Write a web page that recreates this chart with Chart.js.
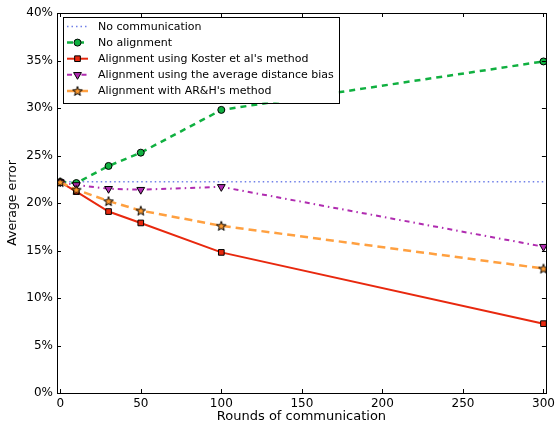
<!DOCTYPE html>
<html>
<head>
<meta charset="utf-8">
<script src="https://cdn.jsdelivr.net/npm/chart.js@4/dist/chart.umd.min.js"></script>
<style>
  html, body { margin: 0; padding: 0; background: #fff; }
  canvas { display: block; }
</style>
</head>
<body>
<canvas id="errorChart" width="559" height="424"></canvas>
<script>
// Rounds of communication (x values)
const rounds = [0, 10, 30, 50, 100, 300];

// Average error (%) per method
const noCommunication = [22.25, 22.25, 22.25, 22.25, 22.25, 22.25];
const noAlignment = [22.2, 22.1, 23.9, 25.3, 29.8, 34.9];
const kosterMethod = [22.2, 21.2, 19.1, 17.9, 14.8, 7.3];
const avgDistanceBias = [22.2, 21.9, 21.5, 21.4, 21.7, 15.4];
const arhMethod = [22.2, 21.4, 20.2, 19.2, 17.6, 13.1];

// Tick labels
const xTicks = [0, 50, 100, 150, 200, 250, 300];
const yTicks = [0, 5, 10, 15, 20, 25, 30, 35, 40];

const FONT = "'DejaVu Sans', Verdana, sans-serif";

// Filled five-point star marker, like matplotlib's '*'
function makeStar(size, fill) {
    const c = document.createElement('canvas');
    c.width = size;
    c.height = size;
    const g = c.getContext('2d');
    const cx = size / 2, cy = size / 2 + 0.5;
    const outer = size / 2 - 1, inner = outer * 0.42;
    g.beginPath();
    for (let i = 0; i < 10; i++) {
        const r = i % 2 === 0 ? outer : inner;
        const a = -Math.PI / 2 + i * Math.PI / 5;
        const px = cx + r * Math.cos(a), py = cy + r * Math.sin(a);
        if (i === 0) g.moveTo(px, py); else g.lineTo(px, py);
    }
    g.closePath();
    g.fillStyle = fill;
    g.fill();
    g.lineWidth = 1;
    g.strokeStyle = '#000';
    g.stroke();
    return c;
}

const starImg = makeStar(12, '#ff9a2e');

function points(values) {
    return rounds.map((r, i) => ({ x: r, y: values[i] }));
}

// Inward ticks on all four sides + the box frame
const frameTicks = {
    id: 'frameTicks',
    afterDraw(chart) {
        const { ctx, chartArea: a, scales } = chart;
        ctx.save();
        ctx.strokeStyle = '#000';
        ctx.lineWidth = 1;
        ctx.setLineDash([]);
        ctx.beginPath();
        xTicks.forEach(v => {
            const x = Math.round(scales.x.getPixelForValue(v)) + 0.5;
            ctx.moveTo(x, a.bottom); ctx.lineTo(x, a.bottom - 4);
            ctx.moveTo(x, a.top); ctx.lineTo(x, a.top + 4);
        });
        yTicks.forEach(v => {
            const y = Math.round(scales.y.getPixelForValue(v)) + 0.5;
            ctx.moveTo(a.left, y); ctx.lineTo(a.left + 4, y);
            ctx.moveTo(a.right, y); ctx.lineTo(a.right - 4, y);
        });
        ctx.stroke();
        ctx.strokeRect(Math.round(a.left) + 0.5, Math.round(a.top) + 0.5,
            Math.round(a.right - a.left), Math.round(a.bottom - a.top));
        ctx.restore();
    }
};

// matplotlib-style legend in the upper left of the plot
const boxLegend = {
    id: 'boxLegend',
    afterDraw(chart) {
        const { ctx, chartArea: a } = chart;
        const sets = chart.data.datasets;
        const left = a.left + 6, top = a.top + 4;
        const rowH = 16.1;
        ctx.save();
        ctx.font = '11px ' + FONT;
        let textW = 0;
        sets.forEach(ds => { textW = Math.max(textW, ctx.measureText(ds.label).width); });
        const w = 35 + textW + 5, h = sets.length * rowH + 5;
        ctx.fillStyle = '#fff';
        ctx.fillRect(left, top, w, h);
        ctx.strokeStyle = '#000';
        ctx.lineWidth = 1;
        ctx.strokeRect(Math.round(left) + 0.5, Math.round(top) + 0.5, Math.round(w), Math.round(h));

        sets.forEach((ds, i) => {
            const y = top + 9.5 + i * rowH;
            ctx.beginPath();
            ctx.setLineDash(ds.borderDash || []);
            ctx.strokeStyle = ds.borderColor;
            ctx.lineWidth = ds.borderWidth;
            ctx.moveTo(left + 4, y);
            ctx.lineTo(left + 25, y);
            ctx.stroke();
            ctx.setLineDash([]);
            if (ds.pointRadius > 0 || ds.pointStyle instanceof HTMLCanvasElement) {
                ctx.fillStyle = ds.pointBackgroundColor;
                ctx.strokeStyle = '#000';
                ctx.lineWidth = 1;
                Chart.helpers.drawPoint(ctx, {
                    pointStyle: ds.pointStyle,
                    rotation: ds.pointRotation || 0,
                    radius: ds.pointRadius,
                    borderWidth: 1
                }, left + 14.5, y);
            }
            ctx.fillStyle = '#000';
            ctx.textBaseline = 'middle';
            ctx.fillText(ds.label, left + 35, y + 0.5);
        });
        ctx.restore();
    }
};

document.addEventListener('DOMContentLoaded', function () {
    const ctx = document.getElementById('errorChart').getContext('2d');
    new Chart(ctx, {
        type: 'line',
        data: {
            datasets: [
                {
                    label: 'No communication',
                    data: points(noCommunication),
                    borderColor: '#7080e8',
                    borderWidth: 1.5,
                    borderDash: [1.5, 3],
                    pointRadius: 0,
                    order: 5
                },
                {
                    label: 'No alignment',
                    data: points(noAlignment),
                    borderColor: '#10b040',
                    borderWidth: 2.5,
                    borderDash: [6, 5],
                    pointStyle: 'circle',
                    pointRadius: 3.5,
                    pointBackgroundColor: '#10b040',
                    pointBorderColor: '#000',
                    pointBorderWidth: 1,
                    order: 4
                },
                {
                    label: "Alignment using Koster et al's method",
                    data: points(kosterMethod),
                    borderColor: '#e8280e',
                    borderWidth: 2,
                    pointStyle: 'rect',
                    pointRadius: 4,
                    pointBackgroundColor: '#e8280e',
                    pointBorderColor: '#000',
                    pointBorderWidth: 1,
                    order: 3
                },
                {
                    label: 'Alignment using the average distance bias',
                    data: points(avgDistanceBias),
                    borderColor: '#b02cb0',
                    borderWidth: 2,
                    borderDash: [5, 4, 1.5, 4],
                    pointStyle: 'triangle',
                    pointRotation: 180,
                    pointRadius: 4.5,
                    pointBackgroundColor: '#b02cb0',
                    pointBorderColor: '#000',
                    pointBorderWidth: 1,
                    order: 2
                },
                {
                    label: "Alignment with AR&H's method",
                    data: points(arhMethod),
                    borderColor: '#ffa040',
                    borderWidth: 2.5,
                    borderDash: [8, 5],
                    pointStyle: starImg,
                    pointRadius: 6,
                    pointBackgroundColor: '#ff9a2e',
                    order: 1
                }
            ]
        },
        options: {
            responsive: false,
            devicePixelRatio: 1,
            animation: false,
            layout: { padding: { top: 13, right: 11, left: 0, bottom: 0 } },
            plugins: {
                legend: { display: false },
                tooltip: { enabled: false }
            },
            scales: {
                x: {
                    type: 'linear',
                    min: -2,
                    max: 301.5,
                    grid: { display: false, drawTicks: false, tickLength: 0 },
                    border: { display: false },
                    afterBuildTicks: scale => { scale.ticks = xTicks.map(v => ({ value: v })); },
                    afterFit: scale => { scale.height = 31; },
                    ticks: {
                        color: '#000',
                        font: { family: FONT, size: 12 },
                        padding: 4,
                        maxRotation: 0
                    },
                    title: {
                        display: true,
                        text: 'Rounds of communication',
                        color: '#000',
                        font: { family: FONT, size: 13 },
                        padding: { top: 0, bottom: 0 }
                    }
                },
                y: {
                    type: 'linear',
                    min: 0,
                    max: 40,
                    grid: { display: false, drawTicks: false, tickLength: 0 },
                    border: { display: false },
                    afterBuildTicks: scale => { scale.ticks = yTicks.map(v => ({ value: v })); },
                    afterFit: scale => { scale.width = 57; },
                    ticks: {
                        color: '#000',
                        font: { family: FONT, size: 12 },
                        padding: 4,
                        callback: v => v + '%'
                    },
                    title: {
                        display: true,
                        text: 'Average error',
                        color: '#000',
                        font: { family: FONT, size: 12.5 },
                        padding: { top: 5, bottom: 0 }
                    }
                }
            }
        },
        plugins: [frameTicks, boxLegend]
    });
});
</script>
</body>
</html>
